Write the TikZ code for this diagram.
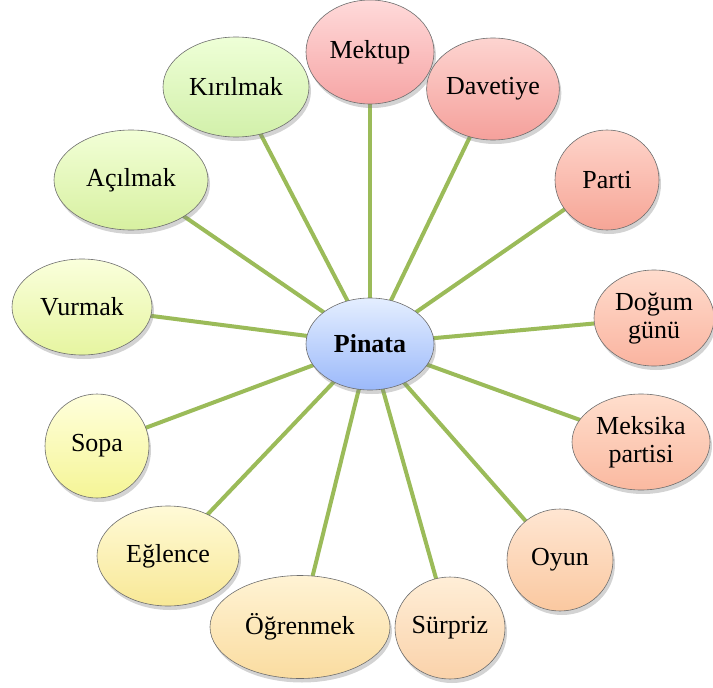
\documentclass[tikz,border=0pt]{standalone}
\usepackage{fontspec}
\setmainfont{Liberation Serif}
\usetikzlibrary{shapes.geometric,shadows,backgrounds}
\definecolor{linkgreen}{RGB}{155,187,89}
\definecolor{rimgray}{RGB}{110,110,110}
\tikzset{
  bub/.style={ellipse, draw=rimgray, line width=0.6pt, inner sep=0pt, align=center,
    font=\fontsize{26}{28}\selectfont,
    drop shadow={opacity=0.35, shadow xshift=2pt, shadow yshift=-4pt}},
  link/.style={draw=linkgreen, line width=4pt},
  sz/.style n args={2}{minimum width=#1pt, minimum height=#2pt}
}
\begin{document}
\begin{tikzpicture}[x=1pt,y=-1pt]
\useasboundingbox (0,0) rectangle (713,688);
\node[bub, sz={128}{92}, top color={rgb,255:red,228;green,238;blue,255}, bottom color={rgb,255:red,155;green,185;blue,250}, font=\fontsize{26}{28}\selectfont\bfseries] (c) at (370,344) {Pinata};
\node[bub, sz={128}{104}, top color={rgb,255:red,255;green,218;blue,218}, bottom color={rgb,255:red,246;green,165;blue,165}] (n1) at (370,52) {Mektup};
\node[bub, sz={120}{102}, top color={rgb,255:red,253;green,212;blue,208}, bottom color={rgb,255:red,245;green,160;blue,155}] (n2) at (493,89) {Davetiye};
\node[bub, sz={104}{100}, top color={rgb,255:red,254;green,212;blue,202}, bottom color={rgb,255:red,246;green,165;blue,150}] (n3) at (607,180) {Parti};
\node[bub, sz={120}{96}, top color={rgb,255:red,255;green,220;blue,205}, bottom color={rgb,255:red,250;green,180;blue,160}] (n4) at (654,318) {Doğum\\günü};
\node[bub, sz={138}{96}, top color={rgb,255:red,255;green,222;blue,205}, bottom color={rgb,255:red,250;green,185;blue,160}] (n5) at (641,442) {Meksika\\partisi};
\node[bub, sz={106}{102}, top color={rgb,255:red,255;green,230;blue,210}, bottom color={rgb,255:red,250;green,200;blue,160}] (n6) at (560,560) {Oyun};
\node[bub, sz={110}{102}, top color={rgb,255:red,255;green,238;blue,215}, bottom color={rgb,255:red,250;green,210;blue,170}] (n7) at (450,628) {Sürpriz};
\node[bub, sz={180}{103}, top color={rgb,255:red,255;green,243;blue,212}, bottom color={rgb,255:red,250;green,220;blue,160}] (n8) at (300,627) {Öğrenmek};
\node[bub, sz={142}{100}, top color={rgb,255:red,255;green,250;blue,215}, bottom color={rgb,255:red,248;green,232;blue,150}] (n9) at (168,556) {Eğlence};
\node[bub, sz={104}{104}, top color={rgb,255:red,255;green,255;blue,220}, bottom color={rgb,255:red,245;green,245;blue,150}] (n10) at (97,446) {Sopa};
\node[bub, sz={140}{96}, top color={rgb,255:red,250;green,255;blue,220}, bottom color={rgb,255:red,230;green,245;blue,160}] (n11) at (82,307) {Vurmak};
\node[bub, sz={154}{100}, top color={rgb,255:red,242;green,255;blue,215}, bottom color={rgb,255:red,215;green,240;blue,160}] (n12) at (131,180) {Açılmak};
\node[bub, sz={146}{100}, top color={rgb,255:red,238;green,255;blue,215}, bottom color={rgb,255:red,210;green,240;blue,170}] (n13) at (236,87) {Kırılmak};
\begin{scope}[on background layer]
\foreach \n in {n1,n2,n3,n4,n5,n6,n7,n8,n9,n10,n11,n12,n13}
  \draw[link] (c.center) -- (\n.center);
\end{scope}
\end{tikzpicture}
\end{document}
